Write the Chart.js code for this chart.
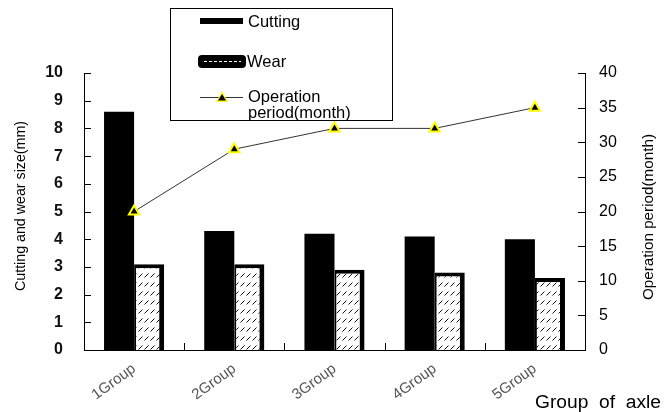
<!DOCTYPE html>
<html>
<head>
<meta charset="utf-8">
<script src="https://cdn.jsdelivr.net/npm/chart.js@4/dist/chart.umd.min.js"></script>
<style>
  html, body { margin: 0; padding: 0; background: #fff; }
  #wrap { width: 670px; height: 412px; }
</style>
</head>
<body>
<div id="wrap"><canvas id="c" width="670" height="412"></canvas></div>
<script>
// Axle groups and measured values
const groups = ['1Group', '2Group', '3Group', '4Group', '5Group'];
const cutting = [8.6, 4.3, 4.2, 4.1, 4.0];          // mm
const wear = [3.1, 3.1, 2.9, 2.8, 2.6];             // mm
const operationMonths = [20, 29, 32, 32, 35];       // months
const seriesNames = ['Cutting', 'Wear', 'Operation period(month)'];
const sizeTitle = 'Cutting and wear size(mm)';
const groupTitle = 'Group  of  axle';

const FONT = '"Liberation Sans", Arial, sans-serif';
const canvas = document.getElementById('c');
const ctx0 = canvas.getContext('2d');

// diagonal dash hatch used for the wear bars
function makeHatch() {
  const t = document.createElement('canvas');
  t.width = 6; t.height = 9;
  const g = t.getContext('2d');
  g.fillStyle = '#fff';
  g.fillRect(0, 0, 6, 9);
  g.strokeStyle = '#111';
  g.lineWidth = 1;
  g.beginPath();
  g.moveTo(0.5, 7.5);
  g.lineTo(4.5, 3.5);
  g.stroke();
  return ctx0.createPattern(t, 'repeat');
}

// draws text centred at (cx, cy), squeezed/stretched to a given length
function fitText(ctx, text, cx, cy, length, angle) {
  const w = ctx.measureText(text).width;
  ctx.save();
  ctx.translate(cx, cy);
  ctx.rotate(angle);
  ctx.scale(length / w, 1);
  ctx.textAlign = 'center';
  ctx.textBaseline = 'middle';
  ctx.fillText(text, 0, 0);
  ctx.restore();
}

// inward tick marks, axis titles and the boxed legend
const decorations = {
  id: 'decorations',
  afterDraw(chart) {
    const { ctx, chartArea: a, scales } = chart;
    ctx.save();
    ctx.strokeStyle = '#000';
    ctx.lineWidth = 1;
    ctx.beginPath();
    scales.y.ticks.forEach(t => {
      const y = Math.round(scales.y.getPixelForValue(t.value)) + 0.5;
      ctx.moveTo(a.left, y); ctx.lineTo(a.left + 7, y);
    });
    scales.y2.ticks.forEach(t => {
      const y = Math.round(scales.y2.getPixelForValue(t.value)) + 0.5;
      ctx.moveTo(a.right - 7, y); ctx.lineTo(a.right, y);
    });
    for (let i = 1; i < groups.length; i++) {
      const x = Math.round(scales.x.getPixelForValue(i - 0.5)) + 0.5;
      ctx.moveTo(x, a.bottom); ctx.lineTo(x, a.bottom - 7);
    }
    ctx.stroke();

    // axis titles (vertical ones read bottom to top)
    ctx.fillStyle = '#000';
    ctx.font = '15px ' + FONT;
    fitText(ctx, sizeTitle, 21, 206, 170, -Math.PI / 2);
    fitText(ctx, seriesNames[2], 649, 217, 166, -Math.PI / 2);
    ctx.font = '18px ' + FONT;
    fitText(ctx, groupTitle, 598, 403, 126, 0);

    // legend box
    const lx = 170, ly = 8, lw = 222, lh = 112;
    ctx.fillStyle = '#fff';
    ctx.fillRect(lx, ly, lw, lh);
    ctx.strokeStyle = '#000';
    ctx.lineWidth = 1;
    ctx.strokeRect(lx + 0.5, ly + 0.5, lw, lh);

    ctx.font = '16.5px ' + FONT;
    ctx.textAlign = 'left';
    ctx.textBaseline = 'middle';
    ctx.fillStyle = '#000';
    // Cutting swatch
    ctx.fillRect(200, 18, 43, 6);
    ctx.fillText(seriesNames[0], 248, 22);
    // Wear swatch
    ctx.beginPath();
    ctx.roundRect(198, 55, 48, 13, 4);
    ctx.fill();
    ctx.strokeStyle = '#fff';
    ctx.setLineDash([3, 2]);
    ctx.beginPath();
    ctx.moveTo(204, 61.5); ctx.lineTo(241, 61.5);
    ctx.stroke();
    ctx.setLineDash([]);
    ctx.fillStyle = '#000';
    ctx.fillText(seriesNames[1], 247, 62);
    // Operation period swatch
    ctx.strokeStyle = '#333';
    ctx.beginPath();
    ctx.moveTo(200, 97.5); ctx.lineTo(243, 97.5);
    ctx.stroke();
    ctx.beginPath();
    ctx.moveTo(222, 91); ctx.lineTo(228, 102); ctx.lineTo(216, 102); ctx.closePath();
    ctx.fillStyle = '#ffff00';
    ctx.fill();
    ctx.beginPath();
    ctx.moveTo(222, 94); ctx.lineTo(226, 100.5); ctx.lineTo(218, 100.5); ctx.closePath();
    ctx.fillStyle = '#000';
    ctx.fill();
    ctx.fillText('Operation', 248, 97);
    ctx.fillText('period(month)', 248, 113);
    ctx.restore();
  }
};

new Chart(canvas, {
  data: {
    labels: groups,
    datasets: [
      {
        type: 'line',
        label: seriesNames[2],
        data: operationMonths,
        yAxisID: 'y2',
        borderColor: '#333',
        borderWidth: 1,
        pointStyle: 'triangle',
        pointRadius: 6,
        pointBackgroundColor: '#000',
        pointBorderColor: '#ffff00',
        pointBorderWidth: 2,
        order: 0
      },
      {
        type: 'bar',
        label: seriesNames[0],
        data: cutting,
        yAxisID: 'y',
        backgroundColor: '#000',
        borderWidth: 0,
        categoryPercentage: 0.6,
        barPercentage: 1.0,
        order: 1
      },
      {
        type: 'bar',
        label: seriesNames[1],
        data: wear,
        yAxisID: 'y',
        backgroundColor: makeHatch(),
        borderColor: '#000',
        borderWidth: { top: 4, right: 5, left: 2, bottom: 0 },
        borderSkipped: false,
        categoryPercentage: 0.6,
        barPercentage: 1.0,
        order: 1
      }
    ]
  },
  options: {
    responsive: false,
    devicePixelRatio: 1,
    animation: false,
    layout: { padding: { top: 73, bottom: 0, left: 0, right: 0 } },
    plugins: { legend: { display: false }, tooltip: { enabled: false } },
    scales: {
      x: {
        offset: true,
        grid: { display: false, drawTicks: false },
        border: { display: true, color: '#000', width: 1 },
        ticks: {
          color: '#555',
          font: { family: FONT, size: 15 },
          minRotation: 36, maxRotation: 36,
          autoSkip: false,
          padding: 10
        },
        afterFit(s) { s.height = 62; }
      },
      y: {
        position: 'left',
        min: 0, max: 10,
        grid: { display: false, drawTicks: false },
        border: { display: true, color: '#000', width: 1 },
        ticks: { stepSize: 1, color: '#111', font: { family: FONT, size: 16, weight: 'bold' }, padding: 21 },
        afterFit(s) { s.width = 84; }
      },
      y2: {
        position: 'right',
        min: 0, max: 40,
        grid: { display: false, drawTicks: false },
        border: { display: true, color: '#000', width: 1 },
        ticks: { stepSize: 5, color: '#000', font: { family: FONT, size: 16 }, padding: 14 },
        afterFit(s) { s.width = 85; }
      }
    }
  },
  plugins: [decorations]
});
</script>
</body>
</html>
